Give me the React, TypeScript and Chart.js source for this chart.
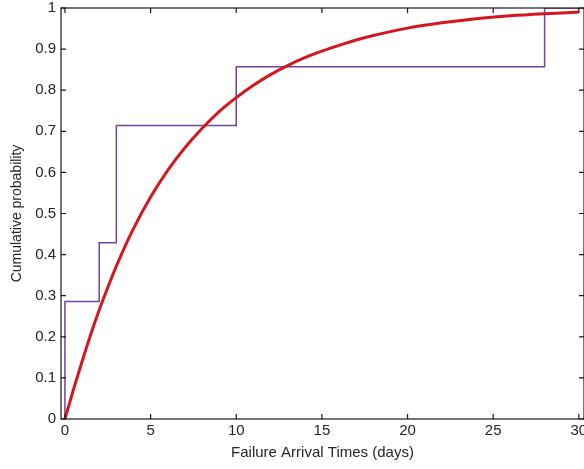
import React, { useEffect, useRef } from "react";
import { Chart, registerables } from "chart.js";

Chart.register(...registerables);

const curveX = [0, 0.5, 1, 1.5, 2, 2.5, 3, 4, 5, 6, 7, 8, 9, 10, 11, 12, 13, 14, 15, 16, 17, 18, 20, 22, 24, 26, 28, 30];
const curveY = [0, 0.072, 0.14, 0.205, 0.265, 0.32, 0.372, 0.463, 0.54, 0.605, 0.66, 0.707, 0.748, 0.782, 0.812, 0.838, 0.86, 0.879, 0.895, 0.909, 0.922, 0.933, 0.951, 0.964, 0.974, 0.981, 0.986, 0.99];

const stepX = [0, 0, 2, 3, 10, 28, 30.3];
const stepY = [0, 0.2857, 0.4286, 0.7143, 0.8571, 1, 1];

const xTicks = [0, 5, 10, 15, 20, 25, 30];
const yTicks = [0, 0.1, 0.2, 0.3, 0.4, 0.5, 0.6, 0.7, 0.8, 0.9, 1];

const X_MIN = -0.23;
const X_MAX = 30.3;

const boxPlugin = {
  id: "boxPlugin",
  afterDraw(chart: any) {
    const { ctx, chartArea } = chart;
    const xs = chart.scales.x;
    const ys = chart.scales.y;
    const { left, right, top, bottom } = chartArea;
    ctx.save();
    ctx.strokeStyle = "#1a1a1a";
    ctx.lineWidth = 1.2;
    ctx.strokeRect(left, top, right - left, bottom - top);
    const L = 5;
    ctx.beginPath();
    xTicks.forEach((v) => {
      const px = xs.getPixelForValue(v);
      ctx.moveTo(px, bottom);
      ctx.lineTo(px, bottom - L);
      ctx.moveTo(px, top);
      ctx.lineTo(px, top + L);
    });
    yTicks.forEach((v) => {
      const py = ys.getPixelForValue(v);
      ctx.moveTo(left, py);
      ctx.lineTo(left + L, py);
      ctx.moveTo(right, py);
      ctx.lineTo(right - L, py);
    });
    ctx.stroke();
    ctx.restore();
  },
};

export default function App() {
  const ref = useRef<HTMLCanvasElement>(null);
  useEffect(() => {
    document.body.style.margin = "0";
    document.body.style.overflow = "hidden";
    const font = "'Liberation Sans', Arial, sans-serif";
    const chart = new Chart(ref.current!, {
      type: "line",
      data: {
        datasets: [
          {
            data: curveX.map((x, i) => ({ x, y: curveY[i] })),
            borderColor: "rgb(214,22,30)",
            borderWidth: 3,
            pointRadius: 0,
            cubicInterpolationMode: "monotone",
            fill: false,
          },
          {
            data: stepX.map((x, i) => ({ x, y: stepY[i] })),
            borderColor: "rgb(115,65,160)",
            borderWidth: 1.5,
            pointRadius: 0,
            stepped: true,
            fill: false,
          },
        ],
      },
      options: {
        animation: false,
        responsive: false,
        maintainAspectRatio: false,
        layout: { padding: { top: 8, right: 0, left: 0, bottom: 0 } },
        plugins: { legend: { display: false }, tooltip: { enabled: false } },
        scales: {
          x: {
            type: "linear",
            min: X_MIN,
            max: X_MAX,
            afterBuildTicks: (s: any) => {
              s.ticks = xTicks.map((v) => ({ value: v }));
            },
            afterFit: (s: any) => {
              s.height = 50;
              s.paddingLeft = 0;
              s.paddingRight = 0;
            },
            grid: { display: false, drawTicks: false },
            border: { display: false },
            ticks: {
              padding: 3,
              color: "#262626",
              font: { family: font, size: 15 },
              maxRotation: 0,
              autoSkip: false,
            },
            title: {
              display: true,
              text: "Failure Arrival Times (days)",
              color: "#262626",
              font: { family: font, size: 15 },
              padding: { top: 0, bottom: 7 },
            },
          },
          y: {
            type: "linear",
            min: 0,
            max: 1,
            afterBuildTicks: (s: any) => {
              s.ticks = yTicks.map((v) => ({ value: v }));
            },
            afterFit: (s: any) => {
              s.width = 61;
              s.paddingTop = 0;
              s.paddingBottom = 0;
            },
            grid: { display: false, drawTicks: false },
            border: { display: false },
            ticks: {
              padding: 5,
              color: "#262626",
              font: { family: font, size: 15 },
              callback: (v: any) => String(Math.round(Number(v) * 10) / 10),
            },
            title: {
              display: true,
              text: "Cumulative probability",
              color: "#262626",
              font: { family: font, size: 14 },
              padding: { top: 9, bottom: 0 },
            },
          },
        },
      },
      plugins: [boxPlugin],
    } as any);
    return () => chart.destroy();
  }, []);
  return (
    <div style={{ width: 584, height: 469, background: "#fff" }}>
      <canvas ref={ref} width={584} height={469} style={{ display: "block" }} />
    </div>
  );
}
